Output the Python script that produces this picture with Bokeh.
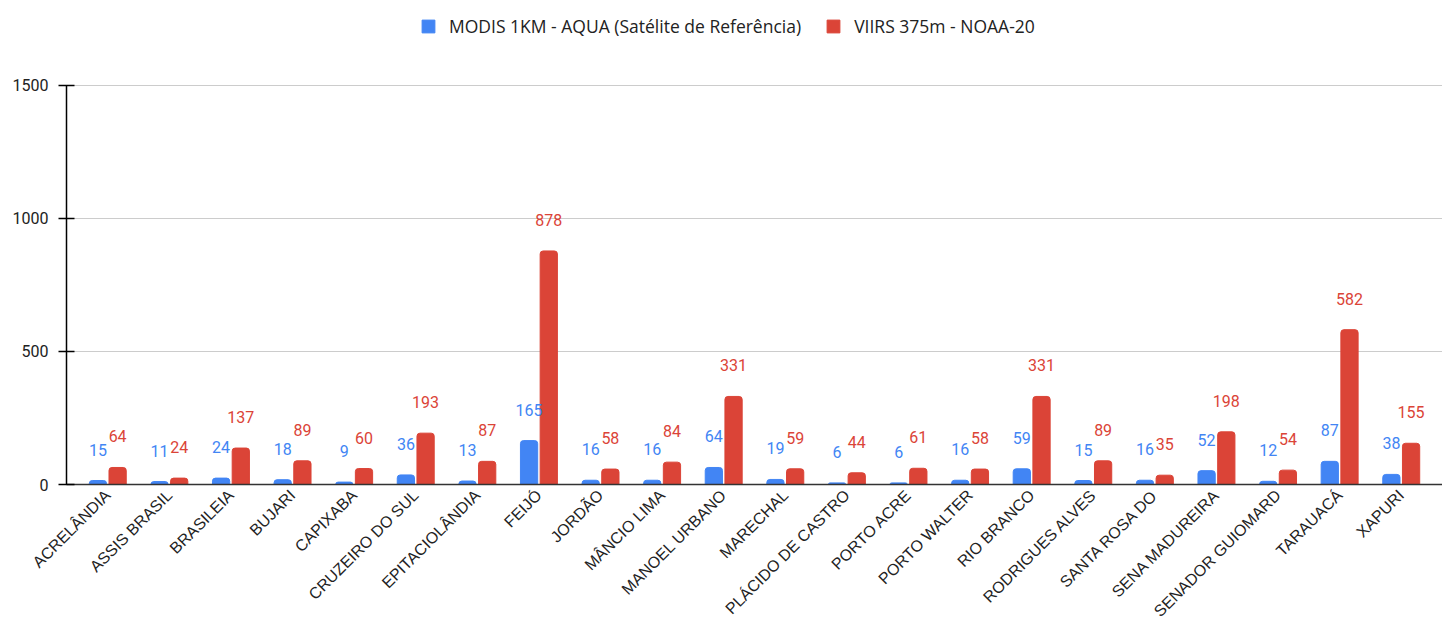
from bokeh.plotting import figure
from bokeh.models import ColumnDataSource, FactorRange, FixedTicker, Legend, LegendItem
from bokeh.transform import dodge
from bokeh.core.properties import value
from bokeh.embed import file_html
from bokeh.resources import INLINE
import math

municipios = ["ACRELÂNDIA", "ASSIS BRASIL", "BRASILEIA", "BUJARI", "CAPIXABA",
              "CRUZEIRO DO SUL", "EPITACIOLÂNDIA", "FEIJÓ", "JORDÃO", "MÂNCIO LIMA",
              "MANOEL URBANO", "MARECHAL", "PLÁCIDO DE CASTRO", "PORTO ACRE",
              "PORTO WALTER", "RIO BRANCO", "RODRIGUES ALVES", "SANTA ROSA DO",
              "SENA MADUREIRA", "SENADOR GUIOMARD", "TARAUACÁ", "XAPURI"]
modis = [15, 11, 24, 18, 9, 36, 13, 165, 16, 16, 64, 19, 6, 6, 16, 59, 15, 16, 52, 12, 87, 38]
viirs = [64, 24, 137, 89, 60, 193, 87, 878, 58, 84, 331, 59, 44, 61, 58, 331, 89, 35, 198, 54, 582, 155]
y_ticks = [0, 500, 1000, 1500]
serie_modis = "MODIS 1KM - AQUA (Satélite de Referência)"
serie_viirs = "VIIRS 375m - NOAA-20"

BLUE = "#4285F4"
RED = "#DB4437"

src = ColumnDataSource(dict(
    cat=municipios, modis=modis, viirs=viirs,
    modis_lbl=[str(v) for v in modis], viirs_lbl=[str(v) for v in viirs],
))

p = figure(x_range=FactorRange(*municipios, range_padding=0.17, range_padding_units="absolute"),
           y_range=(0, 1819.5), width=1442, height=631,
           output_backend="svg", toolbar_location=None,
           min_border_left=66, min_border_right=0, min_border_top=0, min_border_bottom=147)

r1 = p.vbar(x=dodge("cat", -0.16, range=p.x_range), top="modis", width=0.28, source=src,
            color=BLUE, border_radius=(3, 3, 0, 0))
r2 = p.vbar(x=dodge("cat", 0.16, range=p.x_range), top="viirs", width=0.28, source=src,
            color=RED, border_radius=(3, 3, 0, 0))

p.text(x=dodge("cat", -0.16, range=p.x_range), y="modis", text="modis_lbl", source=src,
       text_color=BLUE, text_font=value("Roboto"), text_font_size="16px",
       text_align="center", text_baseline="alphabetic", y_offset=-31)
p.text(x=dodge("cat", 0.16, range=p.x_range), y="viirs", text="viirs_lbl", source=src,
       text_color=RED, text_font=value("Roboto"), text_font_size="16px",
       text_align="center", text_baseline="alphabetic", y_offset=-31)

legend = Legend(items=[LegendItem(label=serie_modis, renderers=[r1]),
                       LegendItem(label=serie_viirs, renderers=[r2])],
                orientation="horizontal", location=(354, 446))
legend.glyph_width = 16
legend.glyph_height = 16
legend.label_height = 16
legend.label_standoff = 13
legend.spacing = 24
legend.padding = 0
legend.margin = 0
legend.border_line_color = None
legend.background_fill_alpha = 0
legend.label_text_font = "Open Sans"
legend.label_text_font_size = "17.5px"
legend.label_text_color = "#222222"
p.add_layout(legend, "center")

p.outline_line_color = None
p.xgrid.grid_line_color = None
p.ygrid.grid_line_color = "#cccccc"
p.ygrid.ticker = FixedTicker(ticks=y_ticks)

p.yaxis.ticker = FixedTicker(ticks=y_ticks)
p.yaxis.bounds = (0, 1500)
p.yaxis.axis_line_color = "#000000"
p.yaxis.axis_line_width = 1.5
p.yaxis.major_tick_line_color = "#000000"
p.yaxis.major_tick_line_width = 1.5
p.yaxis.major_tick_in = 8
p.yaxis.major_tick_out = 8
p.yaxis.minor_tick_line_color = None
p.yaxis.major_label_text_font = "Roboto"
p.yaxis.major_label_text_font_size = "16px"
p.yaxis.major_label_text_color = "#222222"
p.yaxis.major_label_standoff = 10

p.xaxis.axis_line_color = "#333333"
p.xaxis.axis_line_width = 1.5
p.xaxis.major_tick_line_color = None
p.xaxis.minor_tick_line_color = None
p.xaxis.major_label_orientation = math.pi / 4
p.xaxis.major_label_text_font = "Liberation Sans"
p.xaxis.major_label_text_font_size = "16px"
p.xaxis.major_label_text_color = "#222222"
p.xaxis.major_label_standoff = 2

open("out.html", "w").write(file_html(p, INLINE))
